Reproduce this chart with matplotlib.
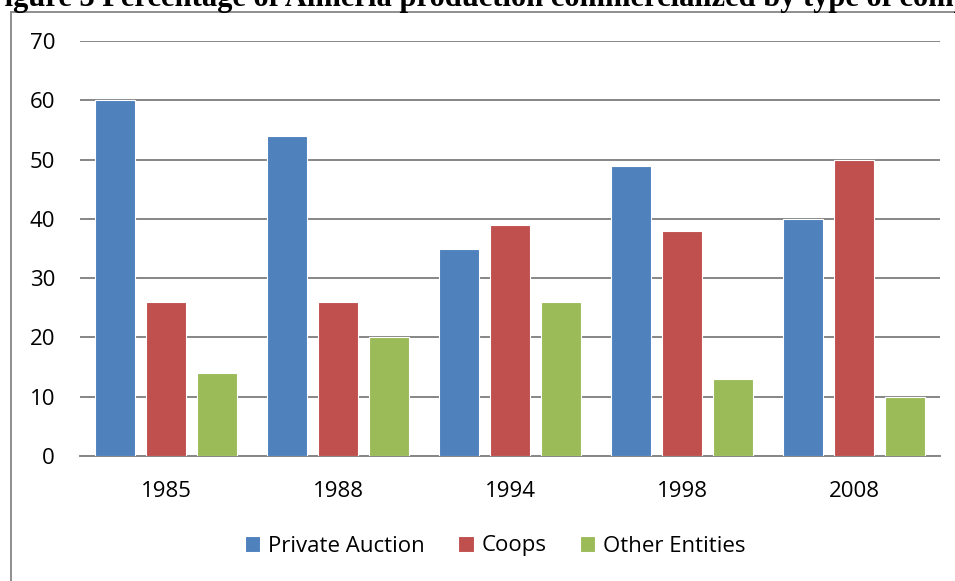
import numpy as np
import matplotlib.pyplot as plt
from matplotlib.patches import Rectangle

years = ["1985", "1988", "1994", "1998", "2008"]
private_auction = [60, 54, 35, 49, 40]
coops = [26, 26, 39, 38, 50]
other_entities = [14, 20, 26, 13, 10]

series = [("Private Auction", private_auction, "#4f81bd"),
          ("Coops", coops, "#c0504d"),
          ("Other Entities", other_entities, "#9bbb59")]

plt.rcParams['font.family'] = ['Open Sans', 'DejaVu Sans']

fig = plt.figure(figsize=(9.55, 5.81), dpi=100)
ax = fig.add_axes([80 / 955, 1 - 456 / 581, 860 / 955, 415 / 581])

x = np.arange(len(years))
width = 0.233
step = 0.297
for i, (name, vals, color) in enumerate(series):
    ax.bar(x + (i - 1) * step, vals, width, color=color, edgecolor="white",
           linewidth=0.8, label=name, zorder=3)

ax.set_xlim(-0.5, len(years) - 0.5)
ax.set_ylim(0, 70)
ax.set_yticks(range(0, 71, 10))
ax.set_xticks(x)
ax.set_xticklabels(years)
ax.grid(axis="y", color="#868686", linewidth=1.4, zorder=0)
for s in ["left", "right", "top"]:
    ax.spines[s].set_visible(False)
ax.spines["bottom"].set_color("#868686")
ax.spines["bottom"].set_linewidth(1.4)
ax.tick_params(axis="both", length=0, labelsize=16, colors="black")
ax.tick_params(axis="y", pad=18)
ax.tick_params(axis="x", pad=18)

leg = fig.legend(loc="center", bbox_to_anchor=(495 / 955, 1 - 546 / 581), ncol=3,
                 frameon=False, fontsize=16, handlelength=0.7, handleheight=0.7,
                 handletextpad=0.35, columnspacing=1.5)

# chart frame
fig.patches.append(Rectangle((11 / 955, -0.1), 1.1, 1 - 12 / 581 + 0.1,
                             transform=fig.transFigure, fill=False,
                             edgecolor="#868686", linewidth=1.3))

fig.text(-14 / 955, 1 - 6 / 581,
         "Figure 3 Percentage of Almeria production commercialized by type of company",
         fontsize=22, fontweight="bold", family=["Liberation Serif", "DejaVu Serif"],
         ha="left", va="baseline")

fig.savefig("out.png", dpi=100)
